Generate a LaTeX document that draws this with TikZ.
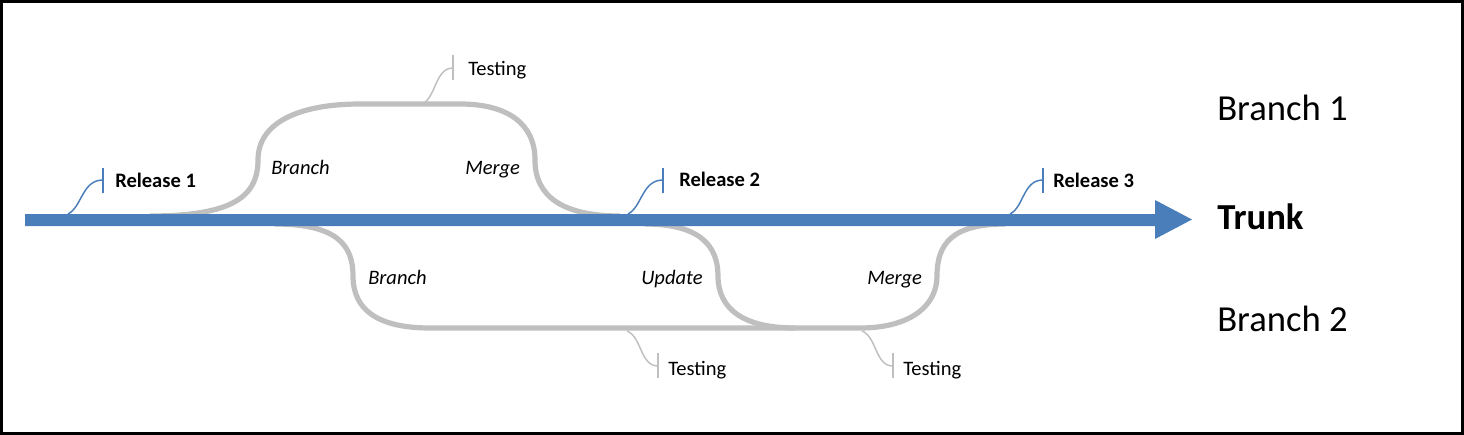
\documentclass[tikz,border=0pt]{standalone}
\usepackage{fontspec}
\setmainfont{Carlito}
\definecolor{trunkblue}{RGB}{74,126,187}
\definecolor{lgray}{RGB}{191,191,191}
\begin{document}
\begin{tikzpicture}[x=0.75pt,y=-0.75pt,
  branchline/.style={line width=3.9pt,draw=lgray},
  bluecall/.style={line width=1.1pt,draw=trunkblue},
  graycall/.style={line width=1.1pt,draw=lgray},
  small/.style={font=\fontsize{15.4}{18}\selectfont,anchor=base west,inner sep=0pt},
  lbl/.style={small,font=\fontsize{15.4}{18}\selectfont\itshape},
  rel/.style={small,font=\fontsize{15.4}{18}\selectfont\bfseries},
  big/.style={font=\fontsize{27.5}{32}\selectfont,anchor=base west,inner sep=0pt}]
\useasboundingbox (0,0) rectangle (1464,435);
\draw[line width=2.25pt] (1.5,1.5) rectangle (1462.5,433.5);

% branch 1
\draw[branchline] (150,216) .. controls (230,216) and (258,198) .. (258,160)
  .. controls (258,122) and (300,104) .. (360,104) -- (460,104)
  .. controls (508,104) and (535,124) .. (535,160)
  .. controls (535,196) and (562,216) .. (620,216);
% branch 2
\draw[branchline] (275,224) .. controls (338,224) and (353,246) .. (353,276)
  .. controls (353,310) and (378,328) .. (430,328) -- (860,328)
  .. controls (910,328) and (937,306) .. (937,276)
  .. controls (937,244) and (952,224) .. (1005,224);
% update
\draw[branchline] (645,224) .. controls (700,224) and (718,246) .. (718,276)
  .. controls (718,310) and (745,328) .. (795,328);

% trunk
\fill[trunkblue] (25,214) -- (1155,214) -- (1155,200) -- (1192,219.5) -- (1155,239) -- (1155,226) -- (25,226) -- cycle;

% callouts
\coordinate (r1a) at (68,214); \coordinate (r1b) at (103,180);
\coordinate (r2a) at (628,214); \coordinate (r2b) at (663,180);
\coordinate (r3a) at (1010,214); \coordinate (r3b) at (1043,180);
\draw[bluecall] (r1a) .. controls (82,207) and (82,180) .. (r1b);
\draw[bluecall] (103,168) -- (103,193);
\draw[bluecall] (r2a) .. controls (642,207) and (642,180) .. (r2b);
\draw[bluecall] (663,168) -- (663,193);
\draw[bluecall] (r3a) .. controls (1024,207) and (1023,180) .. (r3b);
\draw[bluecall] (1043,168) -- (1043,193);

\coordinate (t1a) at (422,104); \coordinate (t1b) at (453,68);
\draw[graycall] (t1a) .. controls (436,98) and (435,68) .. (t1b);
\draw[graycall] (453,55) -- (453,80);
\coordinate (t2a) at (627,331); \coordinate (t2b) at (658,366);
\draw[graycall] (t2a) .. controls (642,337) and (640,366) .. (t2b);
\draw[graycall] (658,353) -- (658,378);
\coordinate (t3a) at (862,331); \coordinate (t3b) at (893,366);
\draw[graycall] (t3a) .. controls (877,337) and (875,366) .. (t3b);
\draw[graycall] (893,353) -- (893,378);

% texts
\node[rel] (rel1) at (115,187) {Release 1};
\node[rel] (rel2) at (679,186) {Release 2};
\node[rel] (rel3) at (1053,187) {Release 3};
\node[small] (test1) at (468,76) {Testing};
\node[small] (test2) at (668,375) {Testing};
\node[small] (test3) at (903,375) {Testing};
\node[lbl] (br1) at (271,174) {Branch};
\node[lbl] (mg1) at (465,174) {Merge};
\node[lbl] (br2) at (368,284) {Branch};
\node[lbl] (upd) at (641,284) {Update};
\node[lbl] (mg2) at (867,284) {Merge};
\node[big] (b1) at (1217,120) {Branch 1};
\node[big,font=\fontsize{27.5}{32}\selectfont\bfseries] (trunk) at (1217,229) {Trunk};
\node[big] (b2) at (1217,331) {Branch 2};
\end{tikzpicture}
\end{document}
